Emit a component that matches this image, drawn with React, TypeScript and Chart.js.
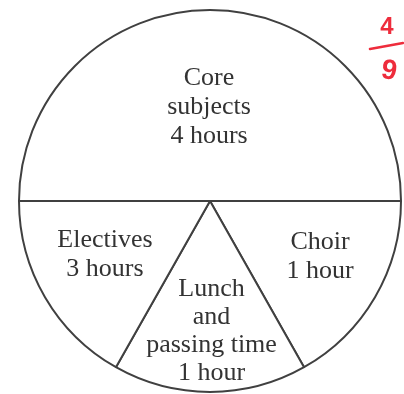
import { useEffect, useRef } from "react";
import { Chart, registerables } from "chart.js";

Chart.register(...registerables);

// ---- data ----
const categories = ["Core subjects", "Choir", "Lunch and passing time", "Electives"];
const hours = [4, 1, 1, 3];
// angle each slice takes in the drawing (degrees)
const sliceAngles = [180, 60.5, 59, 60.5];
// label text lines of each slice name
const nameLines = [["Core", "subjects"], ["Choir"], ["Lunch", "and", "passing time"], ["Electives"]];
const annotationTop = "4";
const annotationBottom = "9";

// ---- layout (label anchor as fraction of radius from pie centre, line height) ----
const labelOffsets = [
  [-0.005, -0.5, 29],
  [0.576, 0.285, 29],
  [0.008, 0.673, 28],
  [-0.55, 0.277, 29],
];

const hourText = (h: number) => `${h} hour${h === 1 ? "" : "s"}`;

const labelPlugin = {
  id: "sliceLabels",
  afterDatasetsDraw(chart: any) {
    const ctx = chart.ctx as CanvasRenderingContext2D;
    const meta = chart.getDatasetMeta(0);
    ctx.save();
    ctx.fillStyle = "#333333";
    ctx.font = '26px "Liberation Serif"';
    ctx.textAlign = "center";
    ctx.textBaseline = "alphabetic";
    meta.data.forEach((arc: any, i: number) => {
      const { x, y, outerRadius } = arc.getProps(["x", "y", "outerRadius"], true);
      const [fx, fy, lh] = labelOffsets[i];
      const ax = x + fx * outerRadius;
      const ay = y + fy * outerRadius;
      const lines = [...nameLines[i], hourText(hours[i])];
      const n = lines.length;
      lines.forEach((t, j) => {
        ctx.fillText(t, ax, ay + (j - (n - 1) / 2) * lh + 8);
      });
    });
    ctx.restore();
  },
  afterDraw(chart: any) {
    // red handwritten fraction in the corner
    const ctx = chart.ctx as CanvasRenderingContext2D;
    ctx.save();
    ctx.fillStyle = "#ee2c3c";
    ctx.strokeStyle = "#ee2c3c";
    ctx.textAlign = "center";
    ctx.textBaseline = "alphabetic";
    ctx.font = 'bold 24px "Liberation Sans"';
    ctx.fillText(annotationTop, 387, 34);
    ctx.lineWidth = 2.5;
    ctx.lineCap = "round";
    ctx.beginPath();
    ctx.moveTo(370, 49);
    ctx.lineTo(403, 43);
    ctx.stroke();
    ctx.translate(388, 79);
    ctx.rotate(0.15);
    ctx.font = 'bold 28px "Liberation Sans"';
    ctx.fillText(annotationBottom, 0, 0);
    ctx.restore();
  },
};

export default function App() {
  const ref = useRef<HTMLCanvasElement>(null);
  useEffect(() => {
    if (!ref.current) return;
    const chart = new Chart(ref.current, {
      type: "pie",
      data: {
        labels: categories,
        datasets: [
          {
            data: sliceAngles,
            backgroundColor: "#ffffff",
            borderColor: "#404040",
            borderWidth: 2,
            borderAlign: "center",
            hoverOffset: 0,
          },
        ],
      },
      options: {
        responsive: false,
        animation: false,
        rotation: -90,
        radius: 191,
        events: [],
        layout: { padding: { left: 16, top: 8, right: 0, bottom: 0 } },
        plugins: {
          legend: { display: false },
          tooltip: { enabled: false },
        },
      } as any,
      plugins: [labelPlugin],
    });
    return () => chart.destroy();
  }, []);
  return (
    <div style={{ position: "fixed", left: 0, top: 0, width: 404, height: 394, background: "#fff" }}>
      <canvas ref={ref} width={404} height={394} style={{ display: "block" }} />
    </div>
  );
}
